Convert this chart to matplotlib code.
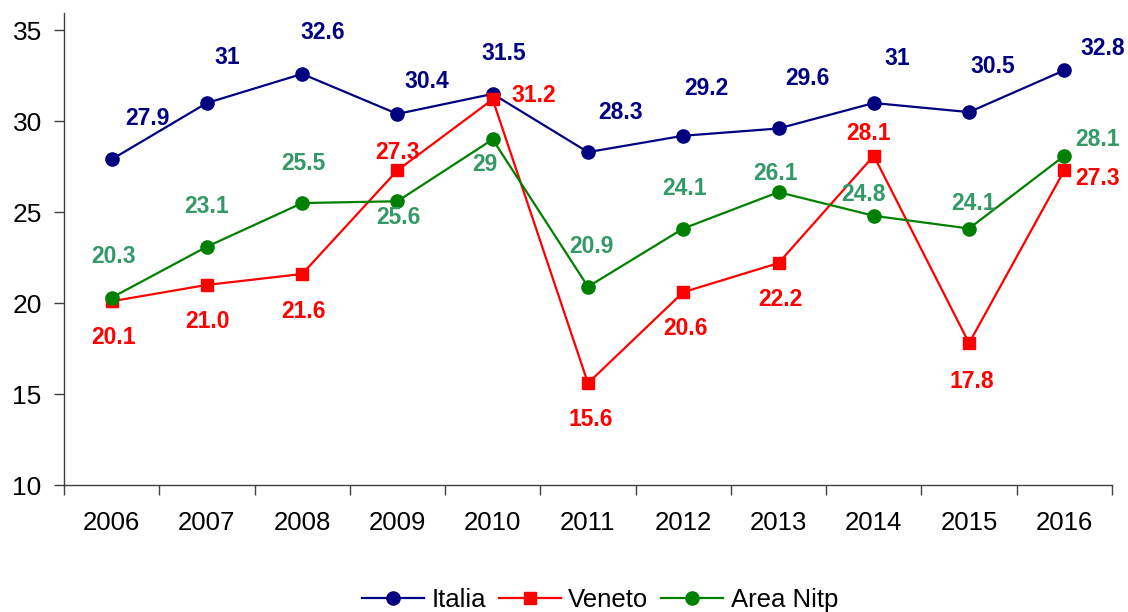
import matplotlib
matplotlib.use("Agg")
import matplotlib.pyplot as plt

# data
years = ["2006", "2007", "2008", "2009", "2010", "2011", "2012", "2013", "2014", "2015", "2016"]
italia = [27.9, 31, 32.6, 30.4, 31.5, 28.3, 29.2, 29.6, 31, 30.5, 32.8]
veneto = [20.1, 21.0, 21.6, 27.3, 31.2, 15.6, 20.6, 22.2, 28.1, 17.8, 27.3]
area_nitp = [20.3, 23.1, 25.5, 25.6, 29, 20.9, 24.1, 26.1, 24.8, 24.1, 28.1]

# label offsets (pixels, x right / y up) - placed by hand like in the original
off_italia = [(36, 41), (20, 46), (21, 41), (29, 32), (11, 40), (33, 40),
              (23, 47), (29, 50), (23, 45), (24, 46), (38, 22)]
off_veneto = [(2, -36), (1, -37), (1, -37), (0, 18), (41, 4), (3, -36),
              (2, -36), (2, -36), (-5, 22), (3, -38), (33, -8)]
off_area = [(2, 41), (0, 40), (1, 40), (1, -16), (-8, -25), (3, 40),
            (1, 40), (-3, 19), (-10, 21), (4, 25), (33, 16)]

plt.rcParams['font.family'] = ['Liberation Sans', 'DejaVu Sans']

fig = plt.figure(figsize=(11.28, 6.12), dpi=100)
ax = fig.add_axes([0.0567, 0.2075, 0.9291, 0.7713])

x = list(range(len(years)))
ax.plot(x, italia, color='#000080', marker='o', markersize=9.5, linewidth=1.6, label='Italia')
ax.plot(x, veneto, color='#ff0000', marker='s', markersize=9, linewidth=1.6, label='Veneto')
ax.plot(x, area_nitp, color='#008000', marker='o', markersize=9.5, linewidth=1.6, label='Area Nitp')

def fmt(v):
    return ('%.1f' % v).rstrip('0').rstrip('.')

lab_size = 16.5
for i in x:
    ax.annotate(fmt(italia[i]), (i, italia[i]), xytext=off_italia[i], textcoords='offset pixels',
                ha='center', va='center', fontsize=lab_size, fontweight='bold', color='#000080')
    ax.annotate('%.1f' % veneto[i], (i, veneto[i]), xytext=off_veneto[i], textcoords='offset pixels',
                ha='center', va='center', fontsize=lab_size, fontweight='bold', color='#ff0000')
    ax.annotate(fmt(area_nitp[i]), (i, area_nitp[i]), xytext=off_area[i], textcoords='offset pixels',
                ha='center', va='center', fontsize=lab_size, fontweight='bold', color='#339966')

ax.set_xlim(-0.5, len(years) - 0.5)
ax.set_ylim(10, 35.95)
ax.set_yticks([10, 15, 20, 25, 30, 35])

# category boundaries get tick marks, labels sit in the middle
ax.set_xticks([i - 0.5 for i in range(len(years) + 1)])
ax.set_xticklabels([])
ax.set_xticks(x, minor=True)
ax.set_xticklabels(years, minor=True)
ax.tick_params(axis='x', which='major', length=7, width=1, color='#404040')
ax.tick_params(axis='x', which='minor', length=0, pad=19, labelsize=18.5)
ax.tick_params(axis='y', length=7, width=1, color='#404040', pad=9, labelsize=19)

for s in ['top', 'right']:
    ax.spines[s].set_visible(False)
for s in ['left', 'bottom']:
    ax.spines[s].set_color('#404040')
    ax.spines[s].set_linewidth(1)

fig.legend(loc='center', bbox_to_anchor=(0.532, 0.02), ncol=3, frameon=False,
           fontsize=18.5, handlelength=2.4, handletextpad=0.3, columnspacing=0.5)

fig.savefig('out.png', dpi=100)
